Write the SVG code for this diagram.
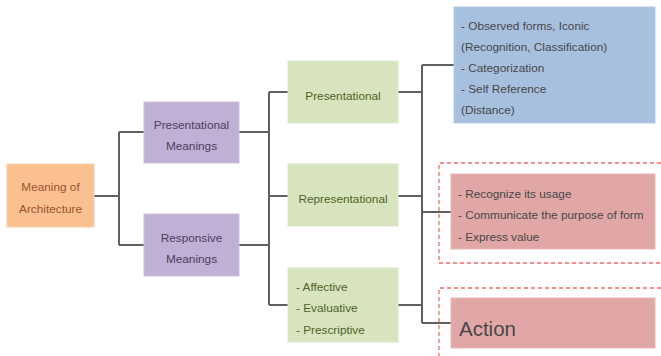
<svg xmlns="http://www.w3.org/2000/svg" width="661" height="356" viewBox="0 0 661 356">
<style>
text { font-family: "Liberation Sans", Arial, sans-serif; font-size: 11.8px; }
.c { text-anchor: middle; }
.orange { fill: #FAC090; stroke: #F9CBA6; stroke-width: 1; }
.purple { fill: #BFB1D5; stroke: #CBC0DD; stroke-width: 1; }
.green { fill: #D7E4BD; stroke: #DEE9C9; stroke-width: 1; }
.blue { fill: #A7C0DF; stroke: #B4CAE5; stroke-width: 1; }
.red { fill: #E1A7A6; stroke: #E7B6B5; stroke-width: 1; }
.t-orange { fill: #A0522D; }
.t-purple { fill: #4B405F; }
.t-green { fill: #4F6228; }
.t-dark { fill: #474747; }
.conn { fill: none; stroke: #5F5F5F; stroke-width: 2; }
.dash { fill: none; stroke: #F26B6B; stroke-width: 1.3; stroke-dasharray: 4 3; }
</style>
<g id="connectors">
<path class="conn" d="M94,196 H119 M119,132 V245 M119,132 H144 M119,245 H144"/>
<path class="conn" d="M239,132 H269 M239,245 H269 M269,92 V305 M269,92 H288 M269,196 H288 M269,305 H288"/>
<path class="conn" d="M398,92 H422 M398,196 H422 M398,305 H422 M422,65 V323 M422,65 H454 M422,212 H451 M422,323 H451"/>
</g>
<g id="groups">
<path class="dash" d="M661,163 H439 V263 H661"/>
<path class="dash" d="M661,288 H439 V356"/>
</g>
<g id="meaning">
<rect class="orange" x="7" y="164" width="87" height="63"/>
<text class="c t-orange" x="50.5" y="191">Meaning of</text>
<text class="c t-orange" x="50.5" y="213">Architecture</text>
</g>
<g id="presentational-meanings">
<rect class="purple" x="144" y="102" width="95" height="61"/>
<text class="c t-purple" x="191.5" y="129">Presentational</text>
<text class="c t-purple" x="191.5" y="150">Meanings</text>
</g>
<g id="responsive-meanings">
<rect class="purple" x="144" y="214" width="95" height="62"/>
<text class="c t-purple" x="191.5" y="242">Responsive</text>
<text class="c t-purple" x="191.5" y="263">Meanings</text>
</g>
<g id="presentational">
<rect class="green" x="288" y="61" width="110" height="62"/>
<text class="c t-green" x="343" y="100">Presentational</text>
</g>
<g id="representational">
<rect class="green" x="288" y="164" width="110" height="62"/>
<text class="c t-green" x="343" y="203">Representational</text>
</g>
<g id="affective">
<rect class="green" x="288" y="268" width="110" height="74"/>
<text class="t-green" x="296" y="291">- Affective</text>
<text class="t-green" x="296" y="312">- Evaluative</text>
<text class="t-green" x="296" y="334">- Prescriptive</text>
</g>
<g id="observed">
<rect class="blue" x="454" y="7" width="201" height="116"/>
<text class="t-dark" x="461" y="30">- Observed forms, Iconic</text>
<text class="t-dark" x="461" y="51">(Recognition, Classification)</text>
<text class="t-dark" x="461" y="72">- Categorization</text>
<text class="t-dark" x="461" y="93">- Self Reference</text>
<text class="t-dark" x="461" y="114">(Distance)</text>
</g>
<g id="recognize">
<rect class="red" x="451" y="174" width="204" height="75"/>
<text class="t-dark" x="458" y="198">- Recognize its usage</text>
<text class="t-dark" x="458" y="219">- Communicate the purpose of form</text>
<text class="t-dark" x="458" y="241">- Express value</text>
</g>
<g id="action">
<rect class="red" x="451" y="298" width="204" height="50"/>
<text class="t-dark" x="459" y="336" style="font-size:20.5px">Action</text>
</g>
</svg>
